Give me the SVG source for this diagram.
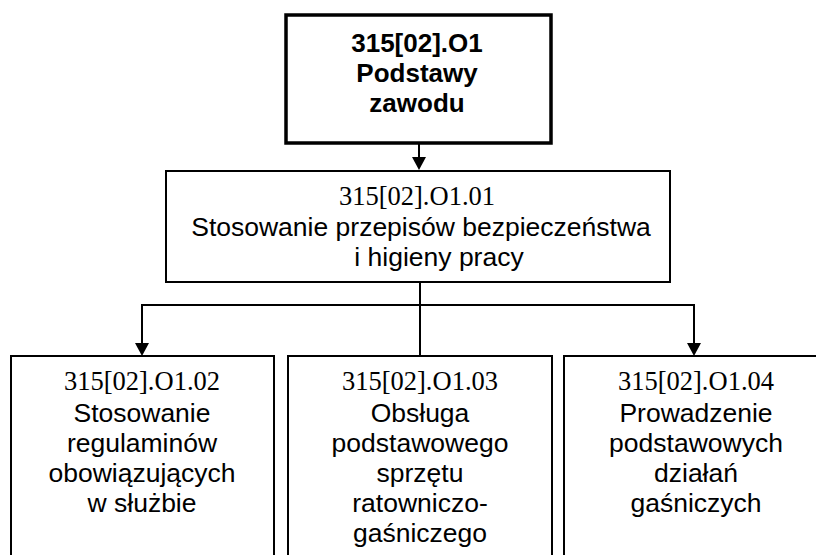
<svg xmlns="http://www.w3.org/2000/svg" width="816" height="555" viewBox="0 0 816 555">
<style>
.box{fill:#fff;stroke:#000;stroke-width:2}
.thick{stroke-width:3.5}
.ln{stroke:#000;stroke-width:2;fill:none}
.ah{fill:#000}
text{font-size:26.5px;fill:#000;text-anchor:middle}
.b{font-family:"Liberation Sans",Arial,sans-serif;font-weight:bold;font-size:26px}
.s{font-family:"Liberation Sans",Arial,sans-serif}
.t{font-family:"Liberation Serif","Times New Roman",serif}
</style>
<rect width="816" height="555" fill="#fff"/>
<g id="connectors">
<line class="ln" x1="419" y1="144" x2="419" y2="158"/>
<polygon class="ah" points="412,157 426,157 419,170"/>
<line class="ln" x1="420" y1="282" x2="420" y2="356"/>
<polyline class="ln" points="142,344 142,305 694,305 694,344"/>
<polygon class="ah" points="135,343 149,343 142,356"/>
<polygon class="ah" points="687,343 701,343 694,356"/>
</g>
<g id="n0">
<rect class="box thick" x="286" y="15" width="265" height="128"/>
<text class="b" x="417" y="52">315[02].O1</text>
<text class="b" x="417" y="82">Podstawy</text>
<text class="b" x="417" y="112">zawodu</text>
</g>
<g id="n1">
<rect class="box" x="166" y="171" width="504" height="111"/>
<text class="t" x="417" y="205">315[02].O1.01</text>
<text class="s" x="421" y="236">Stosowanie przepisów bezpieczeństwa</text>
<text class="s" x="439" y="266">i higieny pracy</text>
</g>
<g id="n2">
<rect class="box" x="11" y="356" width="263" height="210"/>
<text class="t" x="142" y="390">315[02].O1.02</text>
<text class="s" x="142" y="422">Stosowanie</text>
<text class="s" x="142" y="452">regulaminów</text>
<text class="s" x="142" y="482">obowiązujących</text>
<text class="s" x="142" y="512">w służbie</text>
</g>
<g id="n3">
<rect class="box" x="288" y="356" width="264" height="210"/>
<text class="t" x="420" y="390">315[02].O1.03</text>
<text class="s" x="420" y="422">Obsługa</text>
<text class="s" x="420" y="452">podstawowego</text>
<text class="s" x="420" y="482">sprzętu</text>
<text class="s" x="420" y="512">ratowniczo-</text>
<text class="s" x="420" y="542">gaśniczego</text>
</g>
<g id="n4">
<rect class="box" x="564" y="356" width="264" height="210"/>
<text class="t" x="696" y="390">315[02].O1.04</text>
<text class="s" x="696" y="422">Prowadzenie</text>
<text class="s" x="696" y="452">podstawowych</text>
<text class="s" x="696" y="482">działań</text>
<text class="s" x="696" y="512">gaśniczych</text>
</g>
</svg>
